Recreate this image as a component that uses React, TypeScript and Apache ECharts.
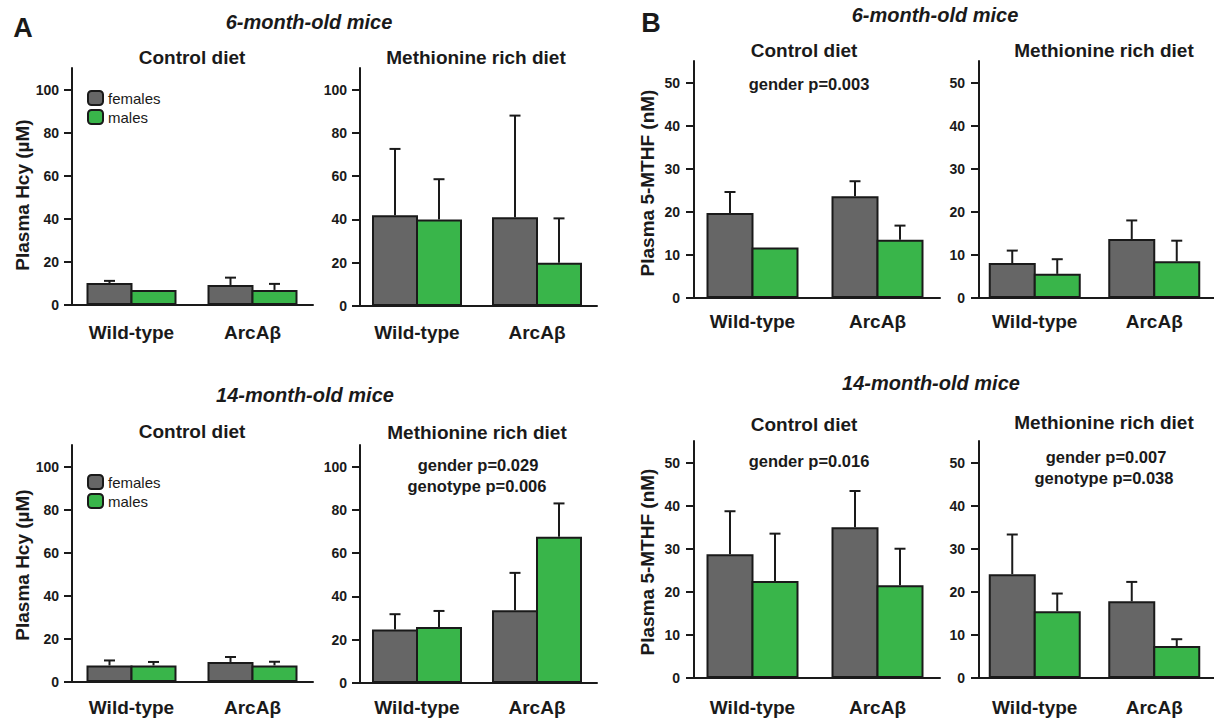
import React, { useEffect, useRef } from "react";
import * as echarts from "echarts";

const categories = ["Wild-type", "ArcAβ"];
const seriesNames = ["females", "males"];

// Panel A: Plasma Hcy (µM)
const hcy6ControlFemales = [10.2, 9.3];
const hcy6ControlFemalesErr = [1.0, 3.4];
const hcy6ControlMales = [7.0, 7.0];
const hcy6ControlMalesErr = [0, 2.8];

const hcy6MetFemales = [42, 41];
const hcy6MetFemalesErr = [30.6, 47];
const hcy6MetMales = [40, 20];
const hcy6MetMalesErr = [18.6, 20.5];

const hcy14ControlFemales = [7.7, 9.3];
const hcy14ControlFemalesErr = [2.3, 2.3];
const hcy14ControlMales = [7.7, 7.7];
const hcy14ControlMalesErr = [1.6, 1.7];

const hcy14MetFemales = [24.7, 33.6];
const hcy14MetFemalesErr = [7.1, 17.3];
const hcy14MetMales = [25.9, 67.6];
const hcy14MetMalesErr = [7.4, 15.4];

// Panel B: Plasma 5-MTHF (nM)
const mthf6ControlFemales = [19.7, 23.6];
const mthf6ControlFemalesErr = [4.9, 3.5];
const mthf6ControlMales = [11.7, 13.5];
const mthf6ControlMalesErr = [0, 3.3];

const mthf6MetFemales = [8.1, 13.7];
const mthf6MetFemalesErr = [2.9, 4.3];
const mthf6MetMales = [5.6, 8.5];
const mthf6MetMalesErr = [3.4, 4.8];

const mthf14ControlFemales = [28.7, 35.0];
const mthf14ControlFemalesErr = [10.0, 8.4];
const mthf14ControlMales = [22.5, 21.5];
const mthf14ControlMalesErr = [11.0, 8.5];

const mthf14MetFemales = [24.1, 17.8];
const mthf14MetFemalesErr = [9.2, 4.5];
const mthf14MetMales = [15.5, 7.4];
const mthf14MetMalesErr = [4.1, 1.6];

const hcyTicks = [0, 20, 40, 60, 80, 100];
const mthfTicks = [0, 10, 20, 30, 40, 50];

const FONT = "'Liberation Sans', Arial, Helvetica, sans-serif";
const INK = "#1a1a1a";
const GRAY = "#666666";
const GREEN = "#39b54a";
const BORDER = 2;

type Panel = {
  f: number[]; fe: number[]; m: number[]; me: number[];
  grid: { left: number; top: number; width: number; height: number };
  max: number; ticks: number[]; offset: number; labelMargin: number; barWidth: number; yLabelMargin: number;
};

const panels: Panel[] = [
  { f: hcy6ControlFemales, fe: hcy6ControlFemalesErr, m: hcy6ControlMales, me: hcy6ControlMalesErr,
    grid: { left: 71, top: 68, width: 242, height: 237 }, max: 110, ticks: hcyTicks, offset: -1, labelMargin: 18, barWidth: 46, yLabelMargin: 13 },
  { f: hcy6MetFemales, fe: hcy6MetFemalesErr, m: hcy6MetMales, me: hcy6MetMalesErr,
    grid: { left: 357, top: 68, width: 240, height: 238 }, max: 110, ticks: hcyTicks, offset: -3, labelMargin: 17, barWidth: 46, yLabelMargin: 13 },
  { f: mthf6ControlFemales, fe: mthf6ControlFemalesErr, m: mthf6ControlMales, me: mthf6ControlMalesErr,
    grid: { left: 690, top: 61, width: 250, height: 237 }, max: 55, ticks: mthfTicks, offset: -4, labelMargin: 14, barWidth: 47, yLabelMargin: 14 },
  { f: mthf6MetFemales, fe: mthf6MetFemalesErr, m: mthf6MetMales, me: mthf6MetMalesErr,
    grid: { left: 975, top: 61, width: 250, height: 237 }, max: 55, ticks: mthfTicks, offset: -4, labelMargin: 14, barWidth: 47, yLabelMargin: 14 },
  { f: hcy14ControlFemales, fe: hcy14ControlFemalesErr, m: hcy14ControlMales, me: hcy14ControlMalesErr,
    grid: { left: 71, top: 445, width: 242, height: 237 }, max: 110, ticks: hcyTicks, offset: -1, labelMargin: 16, barWidth: 46, yLabelMargin: 13 },
  { f: hcy14MetFemales, fe: hcy14MetFemalesErr, m: hcy14MetMales, me: hcy14MetMalesErr,
    grid: { left: 357, top: 445, width: 240, height: 238 }, max: 110, ticks: hcyTicks, offset: -3, labelMargin: 15, barWidth: 46, yLabelMargin: 13 },
  { f: mthf14ControlFemales, fe: mthf14ControlFemalesErr, m: mthf14ControlMales, me: mthf14ControlMalesErr,
    grid: { left: 690, top: 441, width: 250, height: 237 }, max: 55, ticks: mthfTicks, offset: -4, labelMargin: 20, barWidth: 47, yLabelMargin: 14 },
  { f: mthf14MetFemales, fe: mthf14MetFemalesErr, m: mthf14MetMales, me: mthf14MetMalesErr,
    grid: { left: 975, top: 441, width: 250, height: 237 }, max: 55, ticks: mthfTicks, offset: -4, labelMargin: 20, barWidth: 47, yLabelMargin: 14 },
];

const txt = (text: string, x: number, y: number, size: number, opts: any = {}) => ({
  type: "text",
  x,
  y,
  rotation: opts.rotation || 0,
  silent: true,
  style: {
    text,
    fontSize: size,
    fontWeight: opts.weight || "bold",
    fontStyle: opts.italic ? "italic" : "normal",
    fontFamily: FONT,
    fill: INK,
    align: "center",
    verticalAlign: "middle",
  },
});

function buildOption() {
  const grid = panels.map((p) => ({ ...p.grid, containLabel: false }));
  const xAxis = panels.map((p, i) => ({
    type: "category",
    gridIndex: i,
    data: categories,
    axisLine: { lineStyle: { color: INK, width: 2 } },
    axisTick: { alignWithLabel: true, length: 8, lineStyle: { color: INK, width: 2 } },
    axisLabel: { color: INK, fontSize: 19, fontWeight: "bold", fontFamily: FONT, margin: p.labelMargin },
  }));
  const yAxis = panels.map((p, i) => ({
    type: "value",
    gridIndex: i,
    min: 0,
    max: p.max,
    offset: p.offset,
    splitLine: { show: false },
    axisLine: { show: true, lineStyle: { color: INK, width: 2 } },
    axisTick: { show: true, length: 8, lineStyle: { color: INK, width: 2 }, customValues: p.ticks },
    axisLabel: { color: INK, fontSize: 14, fontWeight: "bold", fontFamily: FONT, margin: p.yLabelMargin, customValues: p.ticks },
  }));

  const series: any[] = [];
  panels.forEach((p, i) => {
    const gapPct = (-BORDER / p.barWidth) * 100 + "%";
    series.push({
      type: "bar", name: seriesNames[0], xAxisIndex: i, yAxisIndex: i, data: p.f,
      barWidth: p.barWidth, barGap: gapPct,
      itemStyle: { color: GRAY, borderColor: INK, borderWidth: BORDER },
    });
    series.push({
      type: "bar", name: seriesNames[1], xAxisIndex: i, yAxisIndex: i, data: p.m,
      barWidth: p.barWidth, barGap: gapPct,
      itemStyle: { color: GREEN, borderColor: INK, borderWidth: BORDER },
    });
    const rows: number[][] = [];
    p.f.forEach((v, k) => { if (p.fe[k] > 0) rows.push([k, v, v + p.fe[k], -1]); });
    p.m.forEach((v, k) => { if (p.me[k] > 0) rows.push([k, v, v + p.me[k], 1]); });
    const half = (p.barWidth - BORDER) / 2;
    series.push({
      type: "custom", xAxisIndex: i, yAxisIndex: i, z: 5, silent: true,
      data: rows,
      encode: { x: 0, y: [1, 2] },
      renderItem: (params: any, api: any) => {
        const side = api.value(3);
        const p0 = api.coord([api.value(0), api.value(1)]);
        const p1 = api.coord([api.value(0), api.value(2)]);
        const x = p0[0] + side * half;
        const cap = 11;
        const st = { stroke: INK, lineWidth: 2 };
        return {
          type: "group",
          children: [
            { type: "line", shape: { x1: x, y1: p0[1], x2: x, y2: p1[1] }, style: st },
            { type: "line", shape: { x1: x - cap / 2, y1: p1[1], x2: x + cap / 2, y2: p1[1] }, style: st },
          ],
        };
      },
    });
  });

  const legendBase = {
    data: seriesNames,
    orient: "vertical",
    itemWidth: 15,
    itemHeight: 14,
    itemGap: 3,
    padding: 0,
    selectedMode: false,
    textStyle: { fontSize: 15, color: INK, fontFamily: FONT },
  };
  const legend = [
    { ...legendBase, left: 87, top: 90 },
    { ...legendBase, left: 87, top: 474 },
  ];

  const graphic = [
    txt("A", 23, 28, 27),
    txt("B", 651, 23, 27),
    txt("6-month-old mice", 309, 22, 20, { italic: true }),
    txt("6-month-old mice", 935, 15, 20, { italic: true }),
    txt("14-month-old mice", 305, 395, 20, { italic: true }),
    txt("14-month-old mice", 931, 383, 20, { italic: true }),
    txt("Control diet", 192, 57, 19),
    txt("Methionine rich diet", 476, 57, 19),
    txt("Control diet", 804, 50, 19),
    txt("Methionine rich diet", 1104, 50, 19),
    txt("Control diet", 192, 431, 19),
    txt("Methionine rich diet", 477, 432, 19),
    txt("Control diet", 804, 424, 19),
    txt("Methionine rich diet", 1104, 422, 19),
    txt("Plasma Hcy (µM)", 22, 195, 19, { rotation: Math.PI / 2 }),
    txt("Plasma Hcy (µM)", 22, 565, 19, { rotation: Math.PI / 2 }),
    txt("Plasma 5-MTHF (nM)", 647, 183, 19, { rotation: Math.PI / 2 }),
    txt("Plasma 5-MTHF (nM)", 647, 562, 19, { rotation: Math.PI / 2 }),
    txt("gender p=0.003", 809, 84, 16.5),
    txt("gender p=0.029", 478, 465, 16.5),
    txt("genotype p=0.006", 477, 486, 16.5),
    txt("gender p=0.016", 809, 461, 16.5),
    txt("gender p=0.007", 1106, 457, 16.5),
    txt("genotype p=0.038", 1104, 478, 16.5),
  ];

  return {
    animation: false,
    backgroundColor: "#ffffff",
    textStyle: { fontFamily: FONT },
    grid,
    xAxis,
    yAxis,
    legend,
    series,
    graphic,
  };
}

export default function App() {
  const ref = useRef<HTMLDivElement>(null);
  useEffect(() => {
    document.body.style.margin = "0";
    if (!ref.current) return;
    const chart = echarts.init(ref.current, undefined, { renderer: "svg" });
    chart.setOption(buildOption() as any);
    return () => chart.dispose();
  }, []);
  return <div ref={ref} style={{ width: 1214, height: 720, overflow: "hidden" }} />;
}
